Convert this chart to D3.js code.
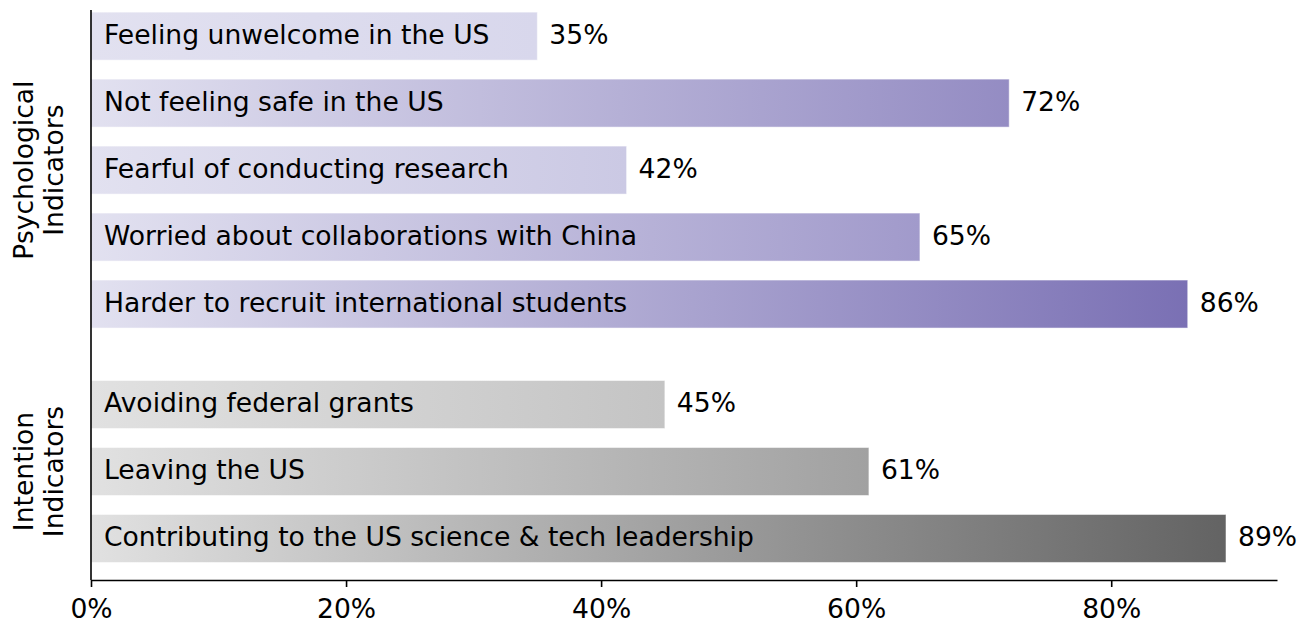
<!DOCTYPE html>
<html>
<head>
<meta charset="utf-8">
<script src="https://cdn.jsdelivr.net/npm/d3@7"></script>
<style>
  body { margin: 0; background: #fff; }
  svg text { font-family: "DejaVu Sans", sans-serif; }
</style>
</head>
<body>
<div id="chart"></div>
<script>
// data
const psychLabels = ["Feeling unwelcome in the US", "Not feeling safe in the US", "Fearful of conducting research",
  "Worried about collaborations with China", "Harder to recruit international students"];
const psychValues = [35, 72, 42, 65, 86];
const intentLabels = ["Avoiding federal grants", "Leaving the US", "Contributing to the US science & tech leadership"];
const intentValues = [45, 61, 89];
const groupNames = [["Psychological", "Indicators"], ["Intention", "Indicators"]];
const xTicks = [0, 20, 40, 60, 80];

const W = 1309, H = 625;
const margin = { left: 91, right: 1277, top: 10, bottom: 580 };
const fontSize = '26.6px';

const svg = d3.select('#chart').append('svg')
    .attr('width', W)
    .attr('height', H);

const x = d3.scaleLinear().domain([0, 93.0]).range([margin.left, margin.right]);
// row slots: psych rows 0..4, gap, intention rows 5.5..7.5
const y = d3.scaleLinear().domain([-0.39, 8.12]).range([margin.top, margin.bottom]);
const barH = 48;

const rows = [];
psychLabels.forEach((l, i) => rows.push({ label: l, value: psychValues[i], pos: i, group: 0 }));
intentLabels.forEach((l, i) => rows.push({ label: l, value: intentValues[i], pos: 5.5 + i, group: 1 }));

// colour per group: light start, end colour depends on value within group
const palettes = [
  { start: '#e2e1f0', lo: '#d8d7ec', hi: '#7a70b4', vals: psychValues },
  { start: '#e1e1e1', lo: '#c4c4c4', hi: '#636363', vals: intentValues }
];

const defs = svg.append('defs');
rows.forEach((d, i) => {
  const p = palettes[d.group];
  const t = (d.value - d3.min(p.vals)) / (d3.max(p.vals) - d3.min(p.vals));
  const endColor = d3.interpolateRgb(p.lo, p.hi)(t);
  const g = defs.append('linearGradient')
      .attr('id', 'grad' + i)
      .attr('x1', '0%').attr('x2', '100%')
      .attr('y1', '0%').attr('y2', '0%');
  g.append('stop').attr('offset', '0%').attr('stop-color', p.start);
  g.append('stop').attr('offset', '100%').attr('stop-color', endColor);
});

// bars
const bars = svg.append('g').selectAll('g.bar')
    .data(rows)
    .enter()
    .append('g')
    .classed('bar', true);

bars.append('rect')
    .attr('x', x(0))
    .attr('y', d => y(d.pos) - barH / 2)
    .attr('width', d => x(d.value) - x(0))
    .attr('height', barH)
    .attr('fill', (d, i) => `url(#grad${i})`)
    .attr('stroke', '#ffffff')
    .attr('stroke-opacity', 0.5)
    .attr('stroke-width', 1);

bars.append('text')
    .attr('x', x(0) + 13)
    .attr('y', d => y(d.pos))
    .attr('dy', '0.3em')
    .style('font-size', fontSize)
    .attr('fill', '#000')
    .text(d => d.label);

bars.append('text')
    .attr('x', d => x(d.value) + 12)
    .attr('y', d => y(d.pos))
    .attr('dy', '0.3em')
    .style('font-size', fontSize)
    .attr('fill', '#000')
    .text(d => d.value + '%');

// axes
const xAxis = svg.append('g')
    .attr('transform', `translate(0,${margin.bottom})`)
    .call(d3.axisBottom(x).tickValues(xTicks).tickFormat(d => d + '%').tickSize(7).tickSizeOuter(0));
xAxis.select('.domain').attr('stroke-width', 1.6);
xAxis.selectAll('.tick line').attr('stroke-width', 1.6);
xAxis.selectAll('.tick text')
    .style('font-size', fontSize)
    .attr('font-family', '"DejaVu Sans", sans-serif')
    .attr('dy', '0')
    .attr('y', 38);

svg.append('line')
    .attr('x1', margin.left).attr('x2', margin.left)
    .attr('y1', margin.top).attr('y2', margin.bottom)
    .attr('stroke', '#000')
    .attr('stroke-width', 1.6);

// group labels
const groupCenters = [2, 6.5];
groupNames.forEach((lines, gi) => {
  const t = svg.append('text')
      .attr('transform', `translate(0,${y(groupCenters[gi])}) rotate(-90)`)
      .attr('text-anchor', 'middle')
      .style('font-size', fontSize);
  lines.forEach((ln, k) => {
    t.append('tspan')
        .attr('x', 0)
        .attr('y', 33 + k * 30)
        .text(ln);
  });
});
</script>
</body>
</html>
